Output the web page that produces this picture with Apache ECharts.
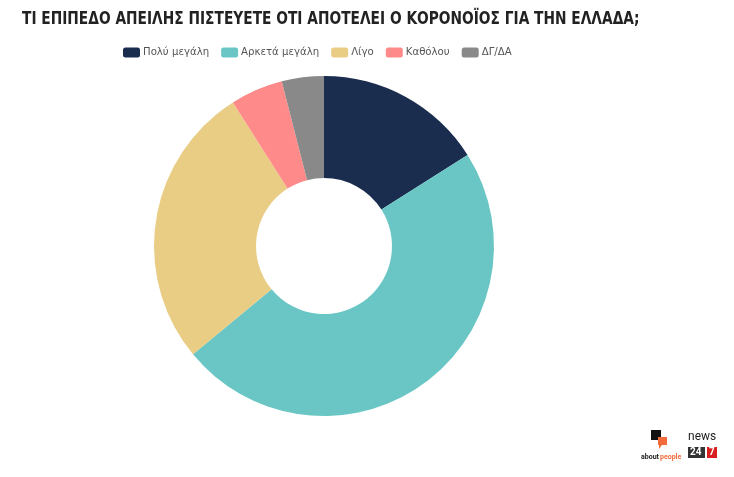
<!DOCTYPE html>
<html><head><meta charset="utf-8">
<script src="https://cdn.jsdelivr.net/npm/echarts@6/dist/echarts.min.js"></script>
<style>html,body{margin:0;padding:0;background:#fff}#c{width:734px;height:477px}</style>
</head><body><div id="c"></div>
<script>
const title = 'ΤΙ ΕΠΙΠΕΔΟ ΑΠΕΙΛΗΣ ΠΙΣΤΕΥΕΤΕ ΟΤΙ ΑΠΟΤΕΛΕΙ Ο ΚΟΡΟΝΟΪΟΣ ΓΙΑ ΤΗΝ ΕΛΛΑΔΑ;';
const categories = ['Πολύ μεγάλη', 'Αρκετά μεγάλη', 'Λίγο', 'Καθόλου', 'ΔΓ/ΔΑ'];
const values = [16, 48, 27, 5, 4];
const colors = ['#1b2d4f', '#6ac6c5', '#e9cd84', '#ff8a8a', '#898989'];

const chart = echarts.init(document.getElementById('c'), null, {renderer: 'canvas'});
chart.setOption({
  animation: false,
  backgroundColor: '#fff',
  color: colors,
  legend: {
    data: categories, left: 118, top: 42, itemWidth: 17, itemHeight: 10, itemGap: 12,
    icon: 'roundRect',
    textStyle: {fontFamily: 'DejaVu Sans Condensed', fontSize: 11.3, color: '#555', padding: [0,0,0,-2]}
  },
  series: [{
    type: 'pie', center: [324, 246], radius: [68, 170], startAngle: 90, clockwise: true,
    label: {show: false}, labelLine: {show: false}, silent: true,
    data: categories.map((n, i) => ({name: n, value: values[i]}))
  }],
  graphic: [
    {type: 'text', x: 22, y: 19, scaleX: 0.85,
     style: {text: title, font: 'bold 18px "DejaVu Sans Condensed"', fill: '#222', textVerticalAlign: 'middle'}},
    {type: 'rect', shape: {x: 651, y: 430, width: 10, height: 10}, style: {fill: '#111'}},
    {type: 'rect', shape: {x: 658, y: 437, width: 9, height: 8}, style: {fill: '#f26b3a'}},
    {type: 'polygon', shape: {points: [[659,445],[662,445],[659,449]]}, style: {fill: '#f26b3a'}},
    {type: 'text', x: 641, y: 454, style: {text: 'about', font: 'bold 7px Roboto', fill: '#222'}},
    {type: 'text', x: 660, y: 454, style: {text: 'people', font: 'bold 7px Roboto', fill: '#f26b3a'}},
    {type: 'text', x: 688, y: 431, style: {text: 'news', font: '12px Roboto', fill: '#222'}},
    {type: 'rect', shape: {x: 688, y: 447, width: 17, height: 11}, style: {fill: '#333'}},
    {type: 'text', x: 690, y: 447, style: {text: '24', font: 'bold 10px Roboto', fill: '#fff'}},
    {type: 'rect', shape: {x: 707, y: 447, width: 10, height: 11}, style: {fill: '#d81e1e'}},
    {type: 'text', x: 709, y: 447, style: {text: '7', font: 'bold 10px Roboto', fill: '#fff'}}
  ]
});
</script></body></html>
